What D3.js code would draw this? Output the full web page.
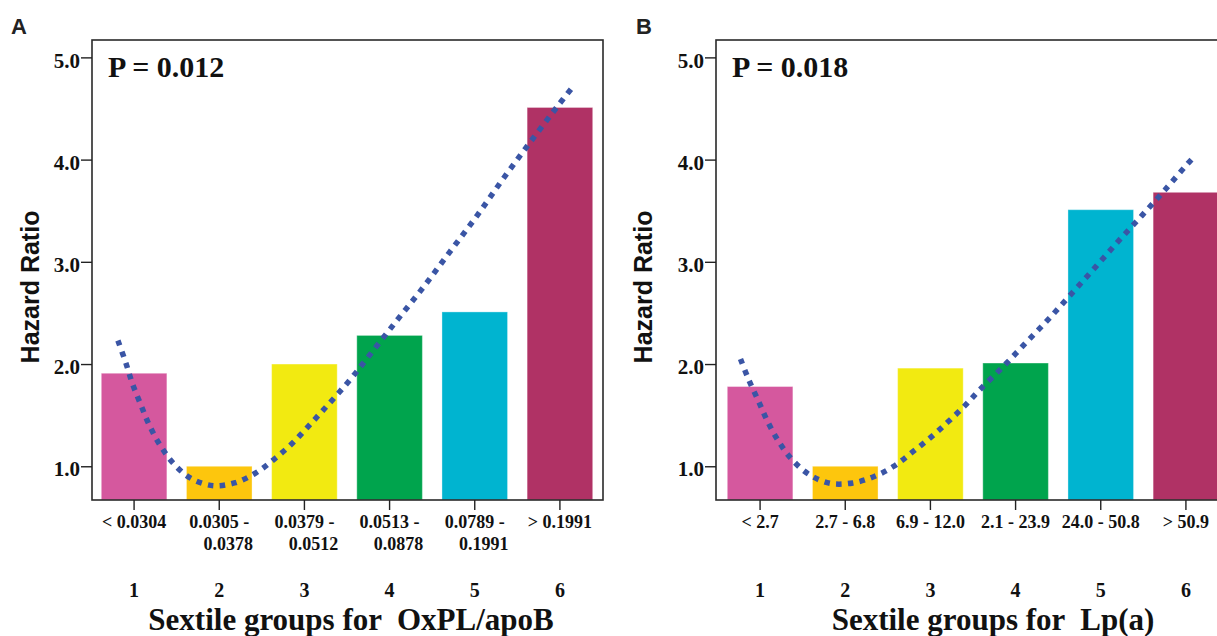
<!DOCTYPE html>
<html>
<head>
<meta charset="utf-8">
<script src="https://cdn.jsdelivr.net/npm/d3@7"></script>
<style>
  html, body { margin: 0; padding: 0; background: #fff; }
  svg { display: block; }
</style>
</head>
<body>
<svg id="chart" width="1217" height="636"></svg>
<script>
// ---------- data ----------
const groups = ["1", "2", "3", "4", "5", "6"];
const barColors = ["#d5589e", "#fdc60d", "#f2ea11", "#00a44d", "#00b4d0", "#b03265"];
const yTicks = [1, 2, 3, 4, 5];

// Panel A : OxPL/apoB
const hrOxPL = [1.91, 1.00, 2.00, 2.28, 2.51, 4.51];
const rangeOxPL = [["< 0.0304"], ["0.0305 -", "0.0378"], ["0.0379 -", "0.0512"], ["0.0513 -", "0.0878"], ["0.0789 -", "0.1991"], ["> 0.1991"]];
const fitOxPLPos = [0.81, 0.90, 0.98, 1.08, 1.18, 1.31, 1.47, 1.67, 1.93, 2.19, 2.43, 2.64, 2.84, 3.03, 3.21, 3.39, 3.56, 3.73, 4.06, 4.39, 4.71, 5.03, 5.34, 5.66, 5.98, 6.15];
const fitOxPLHR  = [2.23, 2.02, 1.81, 1.60, 1.40, 1.20, 1.02, 0.88, 0.81, 0.84, 0.935, 1.066, 1.21, 1.376, 1.54, 1.706, 1.87, 2.05, 2.40, 2.745, 3.10, 3.455, 3.82, 4.18, 4.53, 4.71];

// Panel B : Lp(a)
const hrLpa = [1.78, 1.00, 1.96, 2.01, 3.51, 3.68];
const rangeLpa = [["< 2.7"], ["2.7 - 6.8"], ["6.9 - 12.0"], ["2.1 - 23.9"], ["24.0 - 50.8"], ["> 50.9"]];
const fitLpaPos = [0.77, 0.87, 0.98, 1.09, 1.22, 1.37, 1.575, 1.82, 2.09, 2.34, 2.57, 2.79, 3.00, 3.20, 3.39, 3.57, 3.86, 4.135, 4.41, 4.68, 4.95, 5.215, 5.48, 5.75, 6.01, 6.11];
const fitLpaHR  = [2.05, 1.84, 1.64, 1.435, 1.24, 1.07, 0.92, 0.833, 0.837, 0.90, 1.00, 1.14, 1.28, 1.43, 1.58, 1.74, 1.98, 2.22, 2.46, 2.71, 2.96, 3.21, 3.45, 3.70, 3.95, 4.04];

// ---------- drawing ----------
const svg = d3.select("#chart");
const serif = "'Liberation Serif', 'Times New Roman', serif";
const sans = "'Liberation Sans', Arial, Helvetica, sans-serif";

const plotTop = 40, plotBottom = 500;
const y = d3.scaleLinear().domain([0.67, 5.17]).range([plotBottom, plotTop]);

function panel(cfg) {
  const g = svg.append("g");
  const x = d3.scaleBand().domain(groups)
    .range([cfg.bandLeft, cfg.bandLeft + 511])
    .paddingInner(0.23).paddingOuter(0.115);
  const bw = x.bandwidth();
  const xPos = d3.scaleLinear().domain([1, 6])
    .range([x("1") + bw / 2, x("6") + bw / 2]);

  // bars
  g.selectAll("rect.bar").data(cfg.hr).join("rect")
    .attr("class", "bar")
    .attr("x", (d, i) => x(groups[i]))
    .attr("y", d => y(d))
    .attr("width", bw)
    .attr("height", d => plotBottom - y(d))
    .attr("fill", (d, i) => barColors[i])
    .attr("stroke", "rgba(255,255,255,0.35)")
    .attr("stroke-width", 1);

  // fitted curve (dotted)
  const pts = cfg.fitPos.map((p, i) => [p, cfg.fitHR[i]]);
  g.append("path")
    .datum(pts)
    .attr("d", d3.line().x(d => xPos(d[0])).y(d => y(d[1])).curve(d3.curveCatmullRom))
    .attr("fill", "none")
    .attr("stroke", "#3a55a5")
    .attr("stroke-width", 5.5)
    .attr("stroke-dasharray", "5.5 6.3");

  // frame
  g.append("rect")
    .attr("x", cfg.frameLeft).attr("y", plotTop)
    .attr("width", cfg.frameRight - cfg.frameLeft).attr("height", plotBottom - plotTop)
    .attr("fill", "none").attr("stroke", "#2a2a2a").attr("stroke-width", 1.6);

  // y axis
  const ya = g.append("g")
    .attr("transform", `translate(${cfg.frameLeft},0)`)
    .call(d3.axisLeft(y).tickValues(yTicks).tickFormat(d3.format(".1f")).tickSize(11).tickPadding(1));
  ya.select(".domain").remove();
  ya.selectAll(".tick line").attr("stroke", "#222").attr("stroke-width", 1.4);
  ya.selectAll(".tick text")
    .attr("dy", "0.46em")
    .attr("fill", "#111")
    .style("font-family", serif).style("font-weight", "bold").style("font-size", "21px");

  // x axis
  const xa = g.append("g")
    .attr("transform", `translate(0,${plotBottom})`)
    .call(d3.axisBottom(x).tickSize(10).tickFormat(""));
  xa.select(".domain").remove();
  xa.selectAll(".tick line").attr("stroke", "#222").attr("stroke-width", 1.4);

  // range labels
  groups.forEach((k, i) => {
    const cx = x(k) + bw / 2;
    cfg.ranges[i].forEach((line, j) => {
      g.append("text")
        .attr("x", cx + (j === 1 ? 9 : 0))
        .attr("y", 528 + j * 22)
        .attr("text-anchor", "middle")
        .attr("fill", "#111")
        .style("font-family", serif).style("font-weight", "bold").style("font-size", "18px")
        .text(line);
    });
    g.append("text")
      .attr("x", cx).attr("y", 597)
      .attr("text-anchor", "middle")
      .attr("fill", "#111")
      .style("font-family", serif).style("font-weight", "bold").style("font-size", "20px")
      .text(k);
  });

  // x title
  g.append("text")
    .attr("x", cfg.xTitleX).attr("y", 630)
    .attr("text-anchor", "middle")
    .attr("fill", "#111")
    .style("font-family", serif).style("font-weight", "bold").style("font-size", "31px")
    .style("white-space", "pre")
    .text(cfg.xTitle);

  // y title
  g.append("text")
    .attr("transform", `translate(${cfg.yTitleX},287) rotate(-90)`)
    .attr("text-anchor", "middle")
    .attr("fill", "#111")
    .style("font-family", sans).style("font-weight", "bold").style("font-size", "25px")
    .text("Hazard Ratio");

  // P value
  g.append("text")
    .attr("x", cfg.frameLeft + 16).attr("y", 77)
    .attr("fill", "#111")
    .style("font-family", serif).style("font-weight", "bold").style("font-size", "30px")
    .text(cfg.pText);

  // panel letter
  g.append("text")
    .attr("x", cfg.letterX).attr("y", 34)
    .attr("fill", "#222")
    .style("font-family", sans).style("font-weight", "bold").style("font-size", "22px")
    .text(cfg.letter);
}

panel({
  letter: "A", letterX: 11,
  frameLeft: 92, frameRight: 603, bandLeft: 91.5,
  hr: hrOxPL, ranges: rangeOxPL, fitPos: fitOxPLPos, fitHR: fitOxPLHR,
  pText: "P = 0.012",
  xTitle: "Sextile groups for  OxPL/apoB", xTitleX: 351,
  yTitleX: 39
});

panel({
  letter: "B", letterX: 636,
  frameLeft: 716, frameRight: 1229, bandLeft: 717.5,
  hr: hrLpa, ranges: rangeLpa, fitPos: fitLpaPos, fitHR: fitLpaHR,
  pText: "P = 0.018",
  xTitle: "Sextile groups for  Lp(a)", xTitleX: 993,
  yTitleX: 652
});
</script>
</body>
</html>
